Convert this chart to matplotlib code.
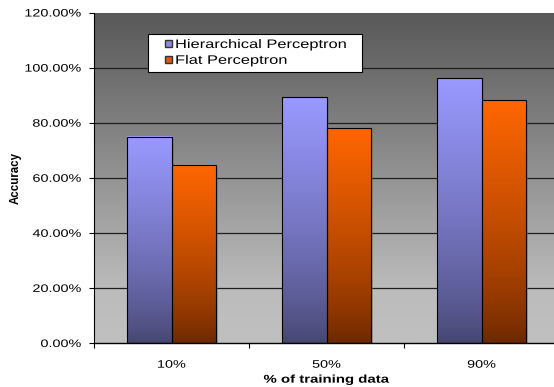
import numpy as np
import matplotlib
matplotlib.use('Agg')
import matplotlib.pyplot as plt
from matplotlib.colors import LinearSegmentedColormap
from matplotlib.legend_handler import HandlerPatch
from matplotlib.patches import Patch
from matplotlib.patheffects import AbstractPathEffect
from matplotlib.ticker import FuncFormatter, FixedLocator
from matplotlib.transforms import Affine2D, ScaledTranslation

# data (percent)
categories = ['10%', '50%', '90%']
hierarchical = [74.8, 89.3, 96.1]
flat = [64.5, 78.0, 88.1]
series_names = ['Hierarchical Perceptron', 'Flat Perceptron']
yticks = [0, 20, 40, 60, 80, 100, 120]

plt.rcParams['font.family'] = ['Liberation Sans', 'DejaVu Sans']

SX = 1.33  # horizontal text in the original is drawn wide


class Stretch(AbstractPathEffect):
    """widen a drawn path horizontally around one of its edges (or a given x)"""
    def __init__(self, sx=SX, anchor='center'):
        super().__init__()
        self.sx, self.anchor = sx, anchor

    def draw_path(self, renderer, gc, tpath, affine, rgbFace=None):
        ext = tpath.get_extents(affine)
        if callable(self.anchor):
            a = self.anchor()
        else:
            a = {'left': ext.x0, 'center': (ext.x0 + ext.x1) / 2, 'right': ext.x1}[self.anchor]
        t = affine + Affine2D().translate(-a, 0).scale(self.sx, 1).translate(a, 0)
        renderer.draw_path(gc, tpath, t, rgbFace)


fig = plt.figure(figsize=(5.54, 3.87), dpi=100)
# plot area runs past the right edge of the picture, like the original
ax = fig.add_axes([94/554, 44/387, 465/554, 330.5/387])

x = np.arange(len(categories))
w = 0.284
x0, x1 = -0.5, len(categories) - 0.5

# grey gradient background of the plot area
bg = LinearSegmentedColormap.from_list('bg', [(0, '#c0c0c0'), (0.16, '#bcbcbc'), (1, '#585858')])
ax.imshow(np.linspace(0, 1, 256).reshape(-1, 1), cmap=bg, origin='lower',
          extent=[x0, x1, 0, 120], aspect='auto', zorder=0)

ramp = (np.linspace(0, 1, 256) ** 0.75).reshape(-1, 1)
shadow_tr = ax.transData + ScaledTranslation(2/100, -2/100, fig.dpi_scale_trans)


def grad_bars(xpos, vals, top, bottom):
    cmap = LinearSegmentedColormap.from_list('', [bottom, top])
    ax.bar(xpos, vals, w, color='#6a6a6a', alpha=0.45, linewidth=0,
           zorder=1.5, transform=shadow_tr)
    bars = ax.bar(xpos, vals, w, facecolor='none', edgecolor='black',
                  linewidth=0.8, zorder=3)
    for b in bars:
        bx, by, bw, bh = b.get_x(), b.get_y(), b.get_width(), b.get_height()
        ax.imshow(ramp, cmap=cmap, origin='lower', extent=[bx, bx + bw, by, by + bh],
                  aspect='auto', zorder=2)


grad_bars(x - w/2, hierarchical, '#9999ff', '#45456f')
grad_bars(x + w/2, flat, '#ff6600', '#6a2700')

ax.set_xlim(x0, x1)
ax.set_ylim(0, 120)

# y axis
ax.yaxis.set_major_locator(FixedLocator(yticks))
ax.yaxis.set_major_formatter(FuncFormatter(lambda v, p: f'{v:.2f}%'))
ax.tick_params(axis='y', length=3.3, width=0.8, pad=6, labelsize=7.8, direction='out')
for v in yticks[1:-1]:
    ax.axhline(v, color='#1e1e1e', linewidth=0.9, zorder=1)

# x axis: labels at centres, ticks at category boundaries
ax.set_xticks(x, categories)
ax.tick_params(axis='x', which='major', length=0, pad=12, labelsize=7.8)
ax.set_xticks(np.arange(x0, x1 + 0.1, 1), minor=True)
ax.tick_params(axis='x', which='minor', length=3.5, width=0.8)

for t in ax.yaxis.get_major_ticks():
    t.label1.set_path_effects([Stretch(anchor='right')])
for t in ax.xaxis.get_major_ticks():
    t.label1.set_path_effects([Stretch(anchor='center')])

for s in ['top', 'right']:
    ax.spines[s].set_visible(False)
ax.spines['left'].set_linewidth(0.8)
ax.spines['bottom'].set_linewidth(1.0)

ax.set_ylabel('Accuracy', fontweight='bold', fontsize=8.3)
ax.yaxis.set_label_coords(-0.155, 0.5)
ax.set_xlabel('% of training data', fontweight='bold', fontsize=8.1, labelpad=3.6,
              path_effects=[Stretch()])

# legend
leg_anchor = (0.117, 0.934)
leg_left = lambda: ax.transAxes.transform(leg_anchor)[0]
handles = [Patch(facecolor='#8a8ad8', edgecolor='#333333'),
           Patch(facecolor='#d85a10', edgecolor='#333333')]
leg = ax.legend(handles, series_names, loc='upper left', bbox_to_anchor=leg_anchor,
                borderaxespad=0, fancybox=False, framealpha=1, edgecolor='black',
                fontsize=8.9, handlelength=1.04, handleheight=0.54, handletextpad=0.2,
                labelspacing=0.31, borderpad=0.38,
                handler_map={Patch: HandlerPatch(xpad=0.64)})
frame = leg.get_frame()
frame.set_linewidth(0.8)
frame.set_path_effects([Stretch(sx=1.38, anchor='left')])
for t in leg.get_texts():
    t.set_path_effects([Stretch(anchor=leg_left)])
for h in leg.legend_handles:
    h.set_path_effects([Stretch(anchor=leg_left)])
leg.set_zorder(5)

fig.savefig('out.png', dpi=100)
